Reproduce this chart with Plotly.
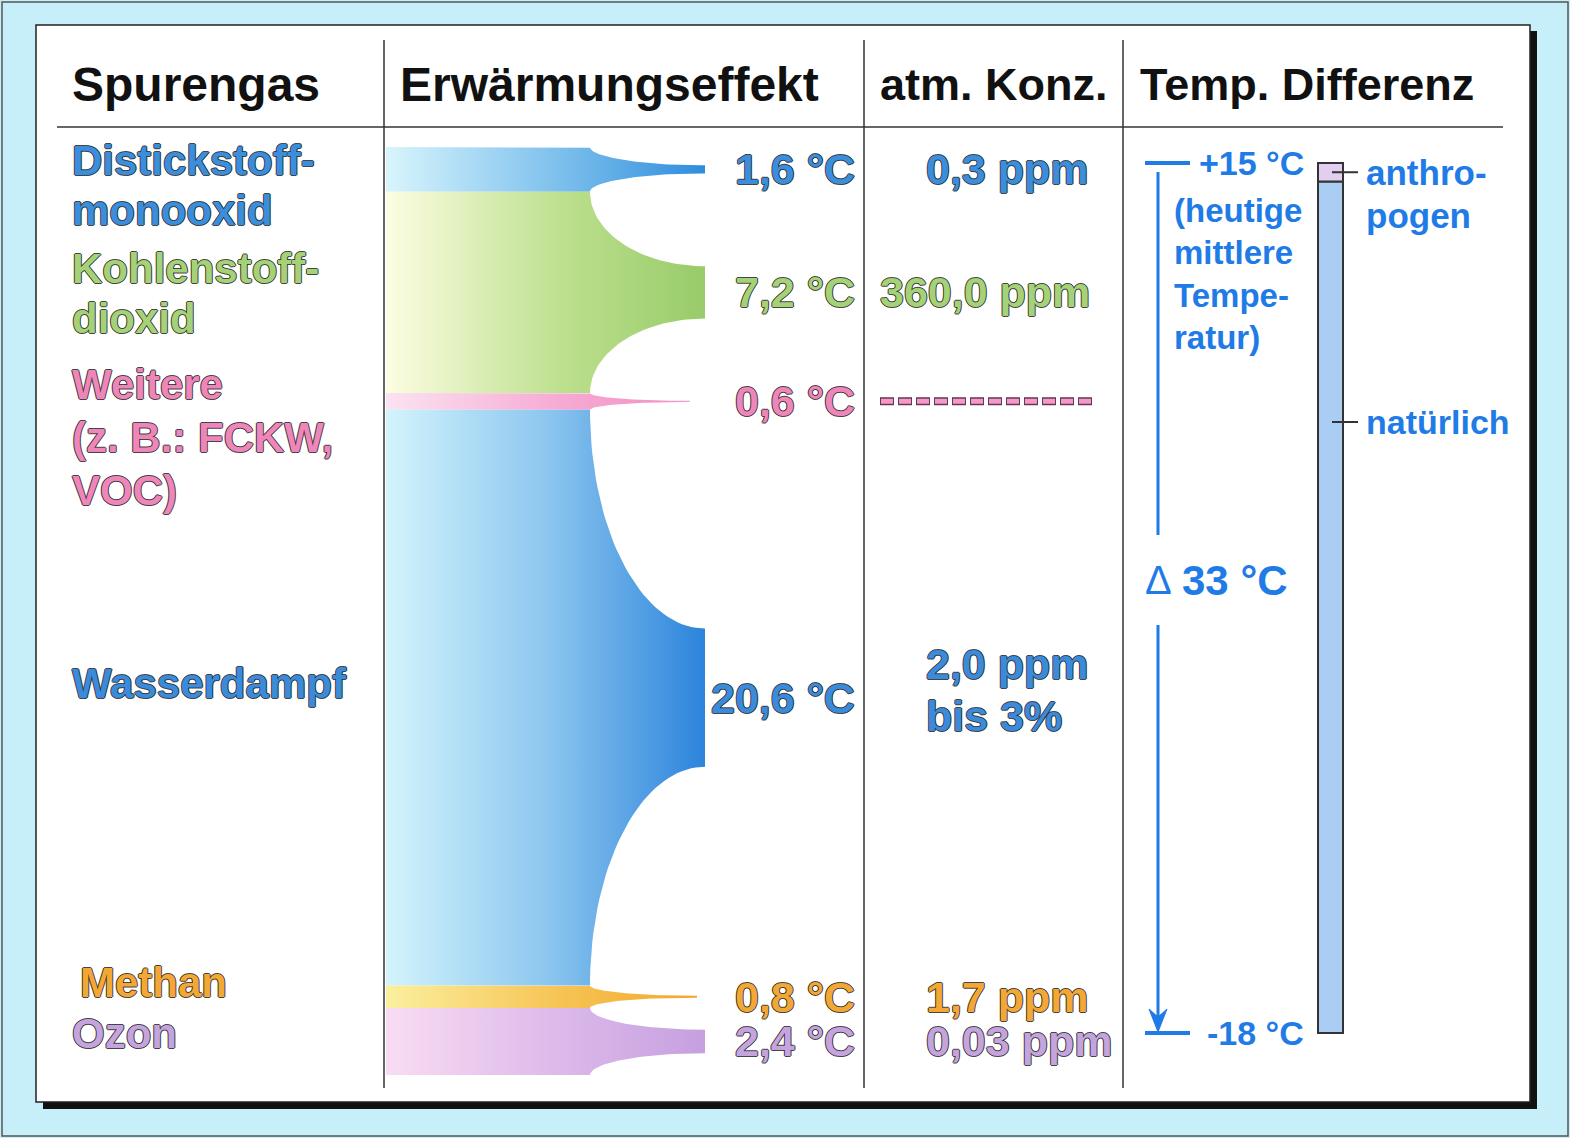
import numpy as np
import plotly.graph_objects as go

W, H = 1570, 1138

# ---------------- data ----------------
gases = ["Distickstoffmonooxid", "Kohlenstoffdioxid", "Weitere", "Wasserdampf", "Methan", "Ozon"]
warming = [1.6, 7.2, 0.6, 20.6, 0.8, 2.4]                     # °C
warming_text = ["1,6 °C", "7,2 °C", "0,6 °C", "20,6 °C", "0,8 °C", "2,4 °C"]
conc_text = [["0,3 ppm"], ["360,0 ppm"], [], ["2,0 ppm", "bis 3%"], ["1,7 ppm"], ["0,03 ppm"]]
name_lines = [["Distickstoff-", "monooxid"], ["Kohlenstoff-", "dioxid"],
              ["Weitere", "(z. B.: FCKW,", "VOC)"], ["Wasserdampf"], ["Methan"], ["Ozon"]]
headers = ["Spurengas", "Erwärmungseffekt", "atm. Konz.", "Temp. Differenz"]
t_now = 15        # heutige mittlere Temperatur
t_base = -18      # ohne Treibhauseffekt
t_anthro = 0.7    # anthropogener Anteil
delta_text = "33 °C"
note_lines = ["(heutige", "mittlere", "Tempe-", "ratur)"]
part_labels = [["anthro-", "pogen"], ["natürlich"]]

# ---------------- styles ----------------
text_col = ["#3b8edb", "#a6d277", "#ee86ba", "#3b8bda", "#f3a836", "#c5a4de"]
grad = [
    [[0, "#d8f5fc"], [0.55, "#7cbfec"], [1, "#2f8ddd"]],
    [[0, "#fdfde2"], [0.55, "#bde08f"], [1, "#98cb69"]],
    [[0, "#fbe3f1"], [0.55, "#f6aad3"], [1, "#f08cc4"]],
    [[0, "#d3f4fc"], [0.5, "#8dc7ef"], [1, "#2c84dc"]],
    [[0, "#fbef9f"], [0.55, "#f6c454"], [1, "#f2a52a"]],
    [[0, "#f9dcf3"], [0.55, "#dbb9ea"], [1, "#c6a0df"]],
]
tip_frac = [0.09, 0.13, 0.03, 0.12, 0.04, 0.175]
tip_x = [705, 705, 690, 705, 697, 705]
X_LEFT, X_FLAT = 386, 590
BAND_TOP_PX, BAND_BOT_PX = 147, 1075
T_TOP_PX, T_BOT_PX = 163, 1033
BLUE = "#1f7be6"
BG = "#c6eff9"
FONT = "Liberation Sans, Arial, Helvetica, sans-serif"
OUTLINE = ("1px 0 0 rgba(35,35,35,0.85), -1px 0 0 rgba(35,35,35,0.85), "
           "0 1px 0 rgba(35,35,35,0.85), 0 -1px 0 rgba(35,35,35,0.85)")
header_x = [70, 398, 878, 1138]
header_size = [48, 48, 45, 45]

# axis for warming (°C, stacked), reversed so that first gas is on top
total = float(np.sum(warming))
k2 = (BAND_BOT_PX - BAND_TOP_PX) / total
v_at = lambda p: (p - BAND_TOP_PX) / k2
# axis for temperatures
k3 = (T_BOT_PX - T_TOP_PX) / (t_now - t_base)
T_at = lambda p: t_now - (p - T_TOP_PX) / k3

fig = go.Figure()

# ---------------- bands ----------------
cum = np.concatenate([[0], np.cumsum(warming)])
th = np.linspace(0, np.pi / 2, 40)
for i, w in enumerate(warming):
    t, b = cum[i], cum[i + 1]
    c = (t + b) / 2
    h = w * tip_frac[i]
    xe = tip_x[i]
    dx = xe - X_FLAT
    xs_top = xe - dx * np.cos(th)
    ys_top = t + (c - h - t) * np.sin(th)
    xs_bot = (xe - dx * np.cos(th))[::-1]
    ys_bot = (b - (b - (c + h)) * np.sin(th))[::-1]
    xs = np.concatenate([[X_LEFT], xs_top, xs_bot, [X_LEFT, X_LEFT]])
    ys = np.concatenate([[t], ys_top, ys_bot, [b, t]])
    fig.add_trace(go.Scatter(
        x=xs, y=ys, yaxis="y2", mode="lines", fill="toself",
        line=dict(width=0, color=grad[i][-1][1]),
        fillgradient=dict(type="horizontal", colorscale=grad[i], start=X_LEFT, stop=705),
        hoverinfo="skip", showlegend=False, name=gases[i]))

annos = []
def txt(x, y, s, size, color, anchor="left", yref="y", shadow=None, weight="bold", yshift=0):
    f = dict(family=FONT, size=size, color=color, weight=weight)
    if shadow:
        f["shadow"] = shadow
    annos.append(dict(x=x, y=y, xref="x", yref=yref, text=s, showarrow=False,
                      xanchor=anchor, yanchor="middle", font=f, yshift=yshift))

# headers
for s, x, fs in zip(headers, header_x, header_size):
    txt(x, 84, s, fs, "#111111")

# gas names (pixel positions)
name_y = [[160, 210], [268, 318], [384, 437, 490], [683], [982], [1033]]
name_x = [70, 70, 70, 70, 78, 70]
for i, lines in enumerate(name_lines):
    for s, y in zip(lines, name_y[i]):
        txt(name_x[i], y, s, 42, text_col[i], shadow=OUTLINE)

# warming values & concentrations, at band centres
for i in range(len(warming)):
    c = (cum[i] + cum[i + 1]) / 2
    txt(857, c, warming_text[i], 43, text_col[i], anchor="right", yref="y2", shadow=OUTLINE)
    lines = conc_text[i]
    if len(lines) == 1:
        txt(878 if len(lines[0]) > 8 else 924, c, lines[0], 43, text_col[i], yref="y2", shadow=OUTLINE)
    elif len(lines) == 2:
        txt(924, c, lines[0], 43, text_col[i], yref="y2", shadow=OUTLINE, yshift=34)
        txt(924, c, lines[1], 43, text_col[i], yref="y2", shadow=OUTLINE, yshift=-18)

shapes = []
# outer frame and panel
shapes.append(dict(type="rect", xref="x", yref="y", x0=2, x1=W - 2, y0=2, y1=H - 2,
                   line=dict(color="#555555", width=1.5), fillcolor=BG, layer="below"))
shapes.append(dict(type="rect", xref="x", yref="y", x0=43, x1=1537, y0=31, y1=1109,
                   line=dict(width=0), fillcolor="#111111", layer="below"))
shapes.append(dict(type="rect", xref="x", yref="y", x0=36, x1=1530, y0=25, y1=1102,
                   line=dict(color="#222222", width=1.5), fillcolor="white", layer="below"))
# dividers
for x in [384, 864, 1123]:
    shapes.append(dict(type="line", xref="x", yref="y", x0=x, x1=x, y0=40, y1=1088,
                       line=dict(color="#333333", width=1.5)))
shapes.append(dict(type="line", xref="x", yref="y", x0=57, x1=1503, y0=127, y1=127,
                   line=dict(color="#333333", width=1.5)))

# dashed line for "Weitere" concentration
cw = (cum[2] + cum[3]) / 2
shapes.append(dict(type="line", xref="x", yref="y2", x0=880, x1=1092, y0=cw, y1=cw,
                   line=dict(color="#6a3550", width=8, dash="14px,4px")))
shapes.append(dict(type="line", xref="x", yref="y2", x0=881, x1=1092, y0=cw, y1=cw,
                   line=dict(color="#f39ac9", width=5, dash="12px,6px")))

# temperature difference column
shapes.append(dict(type="line", xref="x", yref="y3", x0=1145, x1=1190, y0=t_now, y1=t_now,
                   line=dict(color=BLUE, width=4)))
shapes.append(dict(type="line", xref="x", yref="y3", x0=1145, x1=1190, y0=t_base, y1=t_base,
                   line=dict(color=BLUE, width=4)))
t_lab = T_at(580)
shapes.append(dict(type="line", xref="x", yref="y3", x0=1158, x1=1158, y0=T_at(172), y1=T_at(535),
                   line=dict(color=BLUE, width=3)))
shapes.append(dict(type="line", xref="x", yref="y3", x0=1158, x1=1158, y0=T_at(625), y1=T_at(1020),
                   line=dict(color=BLUE, width=3)))
shapes.append(dict(type="path", xref="x", yref="y",
                   path="M 1149,1009 L 1158,1032 L 1167,1009 L 1158,1017 Z",
                   fillcolor=BLUE, line=dict(color=BLUE, width=1)))
# bar: natural + anthropogenic
shapes.append(dict(type="rect", xref="x", yref="y3", x0=1318, x1=1343, y0=t_base, y1=t_now - t_anthro,
                   fillcolor="#a9cdf3", line=dict(color="#333333", width=2)))
shapes.append(dict(type="rect", xref="x", yref="y3", x0=1318, x1=1343, y0=t_now - t_anthro, y1=t_now,
                   fillcolor="#e2cff0", line=dict(color="#333333", width=2)))
y_an = t_now - t_anthro / 2
y_nat = T_at(422)
for yy in [y_an, y_nat]:
    shapes.append(dict(type="line", xref="x", yref="y3", x0=1332, x1=1358, y0=yy, y1=yy,
                       line=dict(color="#333333", width=2)))

txt(1197, t_now, "+15 °C", 34, BLUE, yref="y3")
txt(1205, t_base, "-18 °C", 34, BLUE, yref="y3")
for s, y in zip(note_lines, [210, 252, 295, 337]):
    txt(1172, y, s, 33, BLUE)
txt(1143, t_lab, "Δ", 40, BLUE, yref="y3", weight="normal")
txt(1180, t_lab, delta_text, 42, BLUE, yref="y3")
txt(1364, y_an, part_labels[0][0], 35, BLUE, yref="y3")
txt(1364, 215, part_labels[0][1], 35, BLUE)
txt(1364, y_nat, part_labels[1][0], 34, BLUE, yref="y3")

ax_common = dict(visible=False, showgrid=False, zeroline=False, fixedrange=True)
fig.update_layout(
    width=W, height=H, autosize=False,
    margin=dict(l=0, r=0, t=0, b=0, pad=0),
    paper_bgcolor=BG, plot_bgcolor=BG,
    xaxis=dict(range=[0, W], **ax_common),
    yaxis=dict(range=[H, 0], **ax_common),
    yaxis2=dict(range=[v_at(H), v_at(0)], overlaying="y", anchor="x", **ax_common),
    yaxis3=dict(range=[T_at(H), T_at(0)], overlaying="y", anchor="x", **ax_common),
    shapes=shapes, annotations=annos, showlegend=False,
)
fig.write_html(
    "out.html",
    config={"displayModeBar": False},
    post_script=("document.body.style.margin='0';document.body.style.padding='0';"
                 "document.body.style.overflow='hidden';"
                 "document.body.style.background='" + BG + "';"),
)
